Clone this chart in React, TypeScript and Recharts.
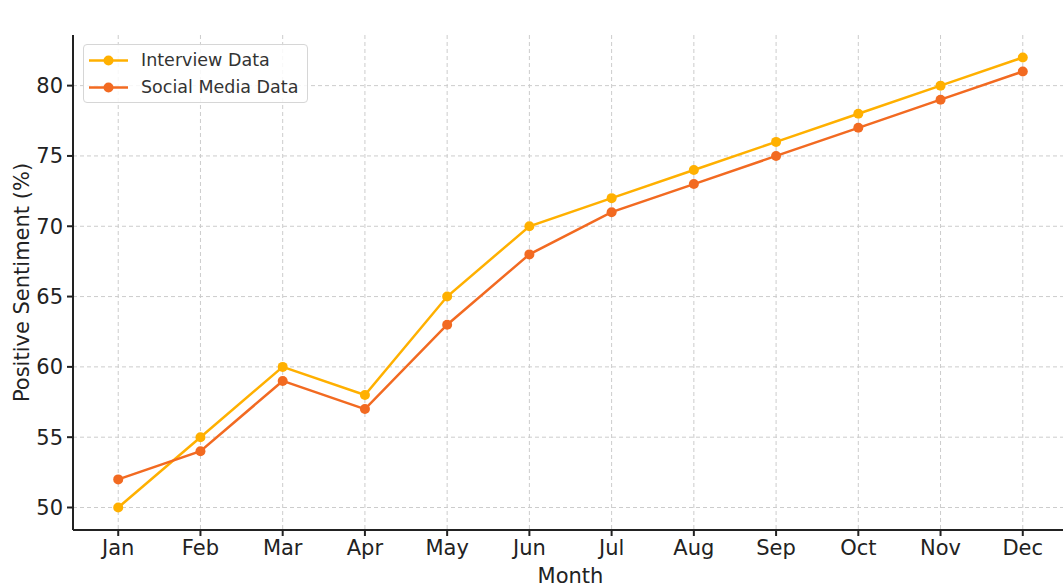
import React from "react";
import {
  LineChart,
  Line,
  XAxis,
  YAxis,
  CartesianGrid,
} from "recharts";

// month labels along the x axis
const months = ["Jan", "Feb", "Mar", "Apr", "May", "Jun", "Jul", "Aug", "Sep", "Oct", "Nov", "Dec"];

// positive sentiment (%) per month
const interviewData = [50, 55, 60, 58, 65, 70, 72, 74, 76, 78, 80, 82];
const socialMediaData = [52, 54, 59, 57, 63, 68, 71, 73, 75, 77, 79, 81];

const yTicks = [50, 55, 60, 65, 70, 75, 80];
const Y_DOMAIN: [number, number] = [48.4, 83.6];

const INTERVIEW_COLOR = "#FFB000";
const SOCIAL_COLOR = "#F26A21";
const FONT = "'DejaVu Sans', sans-serif";

const rows = months.map((m, i) => ({
  idx: i,
  month: m,
  interview: interviewData[i],
  social: socialMediaData[i],
}));

const legendItems = [
  { name: "Interview Data", color: INTERVIEW_COLOR },
  { name: "Social Media Data", color: SOCIAL_COLOR },
];

// horizontal grid only at the y ticks (no line on the plot's top edge)
const hGrid = ({ offset }: any) =>
  yTicks.map((t) => offset.top + ((Y_DOMAIN[1] - t) / (Y_DOMAIN[1] - Y_DOMAIN[0])) * offset.height);

// matplotlib-style legend box, overlaid in the upper left of the plot
const LegendBox = () => (
  <div
    style={{
      position: "absolute",
      left: 83,
      top: 44,
      width: 223,
      height: 57,
      border: "1px solid #d6d6d6",
      borderRadius: 4,
      background: "rgba(255,255,255,0.85)",
      fontFamily: FONT,
      fontSize: 17.5,
      color: "#333",
      boxSizing: "content-box",
    }}
  >
    {legendItems.map((item, i) => (
      <div key={item.name} style={{ display: "flex", alignItems: "center", height: 27, marginTop: i === 0 ? 2 : 0 }}>
        <svg width={57} height={27} style={{ flexShrink: 0 }}>
          <line x1={5} x2={44} y1={13.5} y2={13.5} stroke={item.color} strokeWidth={2.5} />
          <circle cx={24.5} cy={13.5} r={5} fill={item.color} />
        </svg>
        <span style={{ lineHeight: "27px" }}>{item.name}</span>
      </div>
    ))}
  </div>
);

const App = () => {
  return (
    <div style={{ position: "absolute", left: 0, top: 0, width: 1063, height: 588, overflow: "hidden", background: "#fff" }}>
      <LineChart width={1068} height={588} data={rows} margin={{ top: 35, right: 0, left: 0, bottom: 0 }}>
        <CartesianGrid
          strokeDasharray="4 3"
          stroke="#cccccc"
          strokeWidth={1}
          horizontalCoordinatesGenerator={hGrid}
        />
        <XAxis
          dataKey="idx"
          type="number"
          domain={[-0.55, 11.55]}
          ticks={rows.map((r) => r.idx)}
          tickFormatter={(v: number) => months[v]}
          interval={0}
          height={58}
          tickSize={6}
          tickMargin={4}
          stroke="#222"
          strokeWidth={2}
          tick={{ fontSize: 21, fill: "#222", fontFamily: FONT }}
          label={{ value: "Month", position: "insideBottom", offset: 5, fontSize: 21, fill: "#222", fontFamily: FONT }}
        />
        <YAxis
          type="number"
          domain={Y_DOMAIN}
          ticks={yTicks}
          width={73}
          tickSize={6}
          tickMargin={4}
          stroke="#222"
          strokeWidth={2}
          tick={{ fontSize: 21, fill: "#222", fontFamily: FONT }}
          label={{
            value: "Positive Sentiment (%)",
            angle: -90,
            position: "center",
            dx: -15,
            fontSize: 21,
            fill: "#222",
            fontFamily: FONT,
          }}
        />
        <Line
          name="Interview Data"
          dataKey="interview"
          stroke={INTERVIEW_COLOR}
          strokeWidth={2.5}
          dot={{ r: 5, fill: INTERVIEW_COLOR, stroke: "none" }}
          activeDot={false}
          isAnimationActive={false}
        />
        <Line
          name="Social Media Data"
          dataKey="social"
          stroke={SOCIAL_COLOR}
          strokeWidth={2.5}
          dot={{ r: 5, fill: SOCIAL_COLOR, stroke: "none" }}
          activeDot={false}
          isAnimationActive={false}
        />
      </LineChart>
      <LegendBox />
    </div>
  );
};

export default App;
